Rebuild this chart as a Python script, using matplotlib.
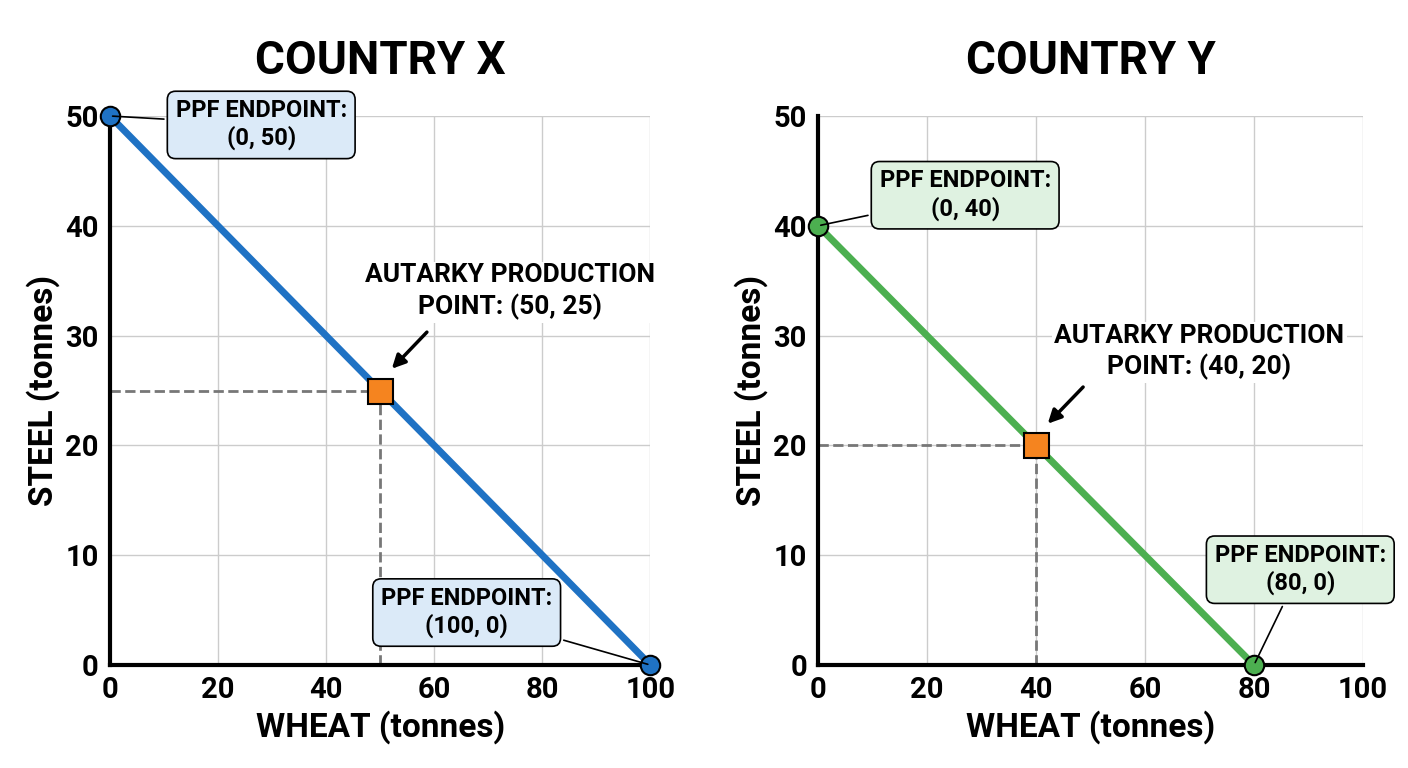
import numpy as np
import matplotlib.pyplot as plt

plt.rcParams['font.family'] = ['Roboto', 'DejaVu Sans']
plt.rcParams['font.weight'] = 'bold'

countries = [
    dict(name='COUNTRY X', steel=50, wheat=100, aut=(50, 25), color='#1f72c4', box='#dbeaf8',
         rect=[0.078, 0.134, 0.384, 0.715],
         ends=[((0, 50), (28, 49.2)), ((100, 0), (66, 4.8))],
         auttext=(74, 34), arrowfrom=(59, 30.5)),
    dict(name='COUNTRY Y', steel=40, wheat=80, aut=(40, 20), color='#4caf50', box='#dff2e1',
         rect=[0.581, 0.134, 0.387, 0.715],
         ends=[((0, 40), (27, 42.8)), ((80, 0), (88.5, 8.7))],
         auttext=(70, 28.5), arrowfrom=(49, 25.5)),
]

plt.figure(figsize=(14.08, 7.68), dpi=100)

for c in countries:
    ax = plt.axes(c['rect'])
    plt.xlim(0, 100)
    plt.ylim(0, 50)
    plt.xticks(np.arange(0, 101, 20), fontsize=21, fontweight='bold')
    plt.yticks(np.arange(0, 51, 10), fontsize=21, fontweight='bold')
    plt.grid(color='#cccccc', lw=1)
    ax.set_axisbelow(True)
    for s in ['top', 'right']:
        ax.spines[s].set_visible(False)
    for s in ['left', 'bottom']:
        ax.spines[s].set_linewidth(3)
    ax.tick_params(length=0, pad=8)
    plt.xlabel('WHEAT (tonnes)', fontsize=24, fontweight='bold')
    plt.ylabel('STEEL (tonnes)', fontsize=24, fontweight='bold')
    plt.title(c['name'], fontsize=33, fontweight='bold', pad=30)

    plt.plot([0, c['wheat']], [c['steel'], 0], color=c['color'], lw=5, zorder=3)
    ax_, ay_ = c['aut']
    plt.plot([0, ax_], [ay_, ay_], ls='--', color='#777777', lw=2, zorder=2)
    plt.plot([ax_, ax_], [0, ay_], ls='--', color='#777777', lw=2, zorder=2)
    plt.plot([0, c['wheat']], [c['steel'], 0], 'o', ms=14, color=c['color'],
             mec='black', mew=1.5, clip_on=False, zorder=5)
    plt.plot(ax_, ay_, 's', ms=18, color='#f5841f', mec='black', mew=1.5, zorder=5)

    for (px, py), (tx, ty) in c['ends']:
        plt.annotate('PPF ENDPOINT:\n(%d, %d)' % (px, py), xy=(px, py), xytext=(tx, ty),
                     ha='center', va='center', fontsize=17, fontweight='bold',
                     bbox=dict(boxstyle='round,pad=0.35', fc=c['box'], ec='black', lw=1.2),
                     arrowprops=dict(arrowstyle='-', color='black', lw=1.2), zorder=6,
                     annotation_clip=False)

    tx, ty = c['auttext']
    plt.text(tx, ty, 'AUTARKY PRODUCTION\nPOINT: (%d, %d)' % c['aut'], ha='center', va='center',
             fontsize=19, fontweight='bold', zorder=6, linespacing=1.3,
             bbox=dict(boxstyle='square,pad=0.1', fc='white', ec='none'))
    plt.annotate('', xy=(ax_ + 1.8, ay_ + 1.8), xytext=c['arrowfrom'],
                 arrowprops=dict(arrowstyle='-|>', color='black', lw=2.5, mutation_scale=20),
                 zorder=6)

plt.savefig('out.png')
